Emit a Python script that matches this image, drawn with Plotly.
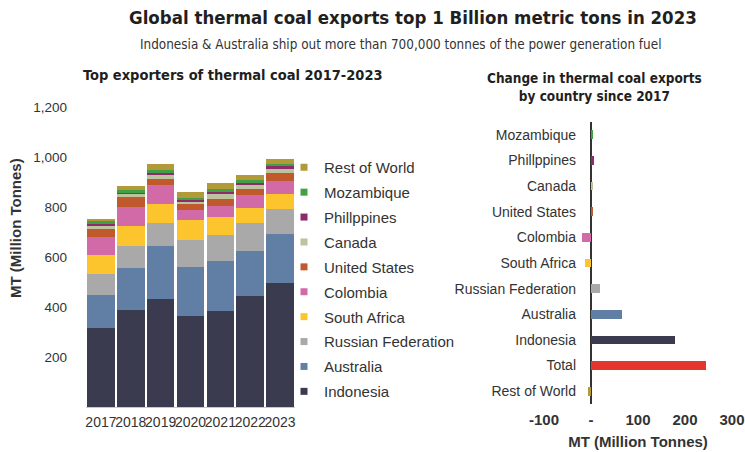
import plotly.graph_objects as go

# ---------------- data ----------------
years = ["2017", "2018", "2019", "2020", "2021", "2022", "2023"]

indonesia = [317, 387, 432, 365, 384, 444, 496]
australia = [132, 168, 211, 195, 199, 181, 196]
russia = [82, 90, 94, 109, 106, 112, 101]
south_africa = [78, 80, 76, 78, 70, 59, 60]
colombia = [71, 76, 74, 42, 47, 51, 50]
united_states = [31, 40, 26, 22, 26, 24, 34]
canada = [16, 11, 14, 12, 20, 16, 16]
philippines = [6, 5, 10, 6, 10, 10, 11]
mozambique = [10, 11, 10, 7, 10, 10, 9]
rest_of_world = [10, 16, 24, 24, 23, 20, 20]

series_names = ["Indonesia", "Australia", "Russian Federation", "South Africa",
                "Colombia", "United States", "Canada", "Phillppines",
                "Mozambique", "Rest of World"]
series_values = [indonesia, australia, russia, south_africa, colombia,
                 united_states, canada, philippines, mozambique, rest_of_world]

change_countries = ["Rest of World", "Total", "Indonesia", "Australia",
                    "Russian Federation", "South Africa", "Colombia",
                    "United States", "Canada", "Phillppines", "Mozambique"]
change_values = [-6, 245, 179, 66, 19, -13, -20, 4, 3, 7, 5]

y_ticks = [200, 400, 600, 800, 1000, 1200]
x2_ticks = [-100, 0, 100, 200, 300]
x2_ticktext = ["-100", "-", "100", "200", "300"]

# ---------------- styles ----------------
colors = {
    "Indonesia": "#3a3b4e",
    "Australia": "#617fa4",
    "Russian Federation": "#a9a9a9",
    "South Africa": "#fcc52e",
    "Colombia": "#d26aa8",
    "United States": "#c0592c",
    "Canada": "#bcc39e",
    "Phillppines": "#8d2b6d",
    "Mozambique": "#41a044",
    "Rest of World": "#b29a39",
    "Total": "#e5352f",
}

W, H = 745, 452
COND = "DejaVu Sans Condensed, Liberation Sans Narrow, Arial Narrow, sans-serif"
REG = "Liberation Sans, Arial, sans-serif"
TXT = "#333333"
DARK = "#1f1f1f"


def px(x):
    return x / W


def py(y):
    return 1 - y / H


fig = go.Figure()

# legend entries (small squares), top of legend = Rest of World
for name in reversed(series_names):
    fig.add_trace(go.Scatter(
        x=[None], y=[None], mode="markers", name=name, legendgroup=name,
        marker=dict(symbol="square", size=7, color=colors[name]),
        xaxis="x", yaxis="y", showlegend=True, hoverinfo="skip",
    ))

# stacked bars, Indonesia at the bottom
for name, vals in zip(series_names, series_values):
    fig.add_trace(go.Bar(
        x=years, y=vals, name=name, legendgroup=name,
        marker=dict(color=colors[name], line=dict(width=0)),
        xaxis="x", yaxis="y", showlegend=False,
        hovertemplate=name + " %{x}: %{y} MT<extra></extra>",
    ))

fig.add_trace(go.Bar(
    x=change_values, y=change_countries, orientation="h",
    marker=dict(color=[colors[c] for c in change_countries], line=dict(width=0)),
    width=0.34, xaxis="x2", yaxis="y2", showlegend=False,
    hovertemplate="%{y}: %{x} MT<extra></extra>",
))

fig.update_layout(
    width=W, height=H,
    margin=dict(l=0, r=0, t=0, b=0, autoexpand=False),
    paper_bgcolor="white", plot_bgcolor="white",
    barmode="stack", bargap=0.08,
    font=dict(family=REG, color=TXT),
    showlegend=True,
    legend=dict(
        x=px(284), y=py(151), xanchor="left", yanchor="top",
        traceorder="grouped", tracegroupgap=2.4,
        font=dict(family=REG, size=15, color=TXT),
        bgcolor="rgba(0,0,0,0)",
    ),
    xaxis=dict(
        domain=[px(86), px(295)], anchor="y", automargin=False,
        type="category", showgrid=False, zeroline=False,
        showline=True, linecolor="#c8c8c8", linewidth=1,
        ticks="", tickangle=0, ticklabelstandoff=2,
        tickfont=dict(family=REG, size=14, color=TXT),
    ),
    yaxis=dict(
        domain=[py(407), py(107)], anchor="x", automargin=False,
        range=[0, 1200], tickvals=y_ticks, tickformat=",",
        showgrid=False, zeroline=False, showline=False, ticks="",
        ticklabelstandoff=18,
        tickfont=dict(family=REG, size=13.5, color=TXT),
    ),
    xaxis2=dict(
        domain=[px(544), px(732)], anchor="y2", automargin=False,
        range=[-100, 300], tickvals=x2_ticks, ticktext=x2_ticktext,
        showgrid=False, zeroline=True, zerolinecolor="#333333", zerolinewidth=1.5,
        showline=False, ticks="", ticklabelstandoff=5,
        tickfont=dict(family=REG, size=15, color=TXT, weight="bold"),
        title=dict(text="<b>MT (Million Tonnes)</b>", standoff=9,
                   font=dict(family=REG, size=15, color=TXT)),
    ),
    yaxis2=dict(
        domain=[py(404), py(122)], anchor="free", position=px(591), automargin=False,
        type="category", categoryorder="array", categoryarray=change_countries,
        showgrid=False, zeroline=False, showline=False, ticks="",
        ticklabelstandoff=15,
        tickfont=dict(family=REG, size=14, color=TXT),
    ),
    annotations=[
        dict(text="<b>Global thermal coal exports top 1 Billion metric tons in 2023</b>",
             x=px(413), y=py(17), xref="paper", yref="paper", showarrow=False,
             xanchor="center", yanchor="middle",
             font=dict(family=COND, size=18.5, color=DARK)),
        dict(text="Indonesia &amp; Australia ship out more than 700,000 tonnes of the power generation fuel",
             x=px(400), y=py(44), xref="paper", yref="paper", showarrow=False,
             xanchor="center", yanchor="middle",
             font=dict(family=COND, size=13.4, color=TXT)),
        dict(text="<b>Top exporters of thermal coal 2017-2023</b>",
             x=px(233), y=py(75), xref="paper", yref="paper", showarrow=False,
             xanchor="center", yanchor="middle",
             font=dict(family=COND, size=14.5, color=DARK)),
        dict(text="<b>Change in thermal coal exports<br>by country since 2017</b>",
             x=px(594), y=py(87), xref="paper", yref="paper", showarrow=False,
             xanchor="center", yanchor="middle",
             font=dict(family=COND, size=13.5, color=DARK)),
        dict(text="<b>MT (Million Tonnes)</b>", textangle=-90,
             x=px(15), y=py(228), xref="paper", yref="paper", showarrow=False,
             xanchor="center", yanchor="middle",
             font=dict(family=REG, size=15, color=TXT)),
    ],
)

fig.write_html("out.html", config={"displayModeBar": False},
               post_script="document.body.style.margin='0px';")
